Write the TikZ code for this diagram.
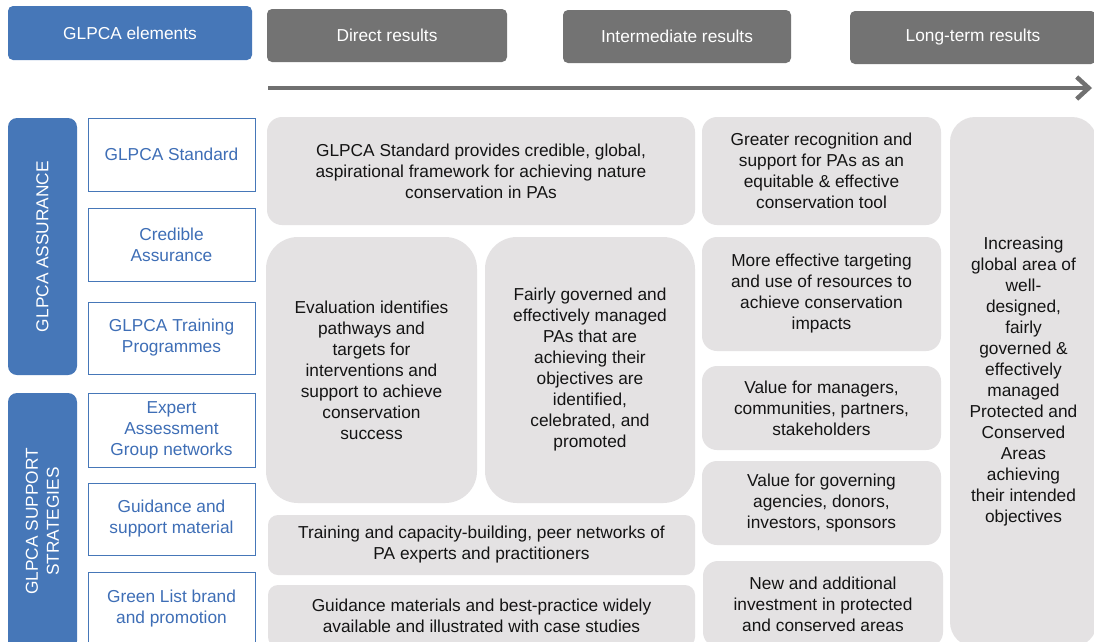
\documentclass[tikz,border=0pt]{standalone}
\usepackage{fontspec}
\setmainfont{Liberation Sans}
\usetikzlibrary{arrows.meta}
\definecolor{glblue}{RGB}{70,119,184}
\definecolor{hdrgray}{RGB}{115,115,115}
\definecolor{arrowgray}{RGB}{112,112,112}
\definecolor{boxgray}{RGB}{228,226,227}
\definecolor{bluetext}{RGB}{62,110,182}
\definecolor{darktext}{RGB}{20,20,20}
\begin{document}
\begin{tikzpicture}[x=1pt,y=-1pt,
  base/.style={rectangle, inner sep=0pt, outer sep=0pt, align=center,
    font=\fontsize{17.3}{21}\selectfont},
  hdr/.style={base, fill=hdrgray, text=white, rounded corners=5pt},
  bluehdr/.style={base, fill=glblue, text=white, rounded corners=5pt},
  bar/.style={base, fill=glblue, text=white, rounded corners=9pt, rotate=90},
  elem/.style={base, draw=glblue, line width=1pt, fill=white, text=bluetext},
  res/.style={base, fill=boxgray, text=darktext},
]
\useasboundingbox (0,0) rectangle (1094,641);
\clip (0,0) rectangle (1094,641);
\fill[white] (0,0) rectangle (1094,641);

% column headers
\node[bluehdr, minimum width=244pt, minimum height=54pt] (elements) at (130,33) {GLPCA elements};
\node[hdr, minimum width=240pt, minimum height=53pt] (direct) at (387,35.5) {Direct results};
\node[hdr, minimum width=228pt, minimum height=53pt] (intermediate) at (677,36.5) {Intermediate results};
\node[hdr, minimum width=246pt, minimum height=53pt] (longterm) at (973,37.5) {Long-term results};

% time arrow
\coordinate (arrowstart) at (268,88);
\coordinate (arrowend) at (1092,88);
\draw[line width=4.5pt, arrowgray, -{Straight Barb[length=12pt,width=22pt]}] (arrowstart) -- (arrowend);

% GLPCA element groups
\node[bar, minimum width=257pt, minimum height=69pt] (assurance) at (42.5,246.5) {GLPCA ASSURANCE};
\node[bar, minimum width=257pt, minimum height=69pt] (support) at (42.5,521.5) {GLPCA SUPPORT\\STRATEGIES};

% GLPCA elements
\node[elem, minimum width=167pt, minimum height=73pt] (standard) at (171.5,154.5) {GLPCA Standard};
\node[elem, minimum width=167pt, minimum height=73pt] (credible) at (171.5,244.5) {Credible\\Assurance};
\node[elem, minimum width=167pt, minimum height=72pt] (training) at (171.5,338) {GLPCA Training\\Programmes};
\node[elem, minimum width=167pt, minimum height=74pt] (expert) at (171.5,430) {Expert\\Assessment\\Group networks};
\node[elem, minimum width=167pt, minimum height=72pt] (guidance) at (171.5,519) {Guidance and\\support material};
\node[elem, minimum width=167pt, minimum height=73pt] (greenlist) at (171.5,608.5) {Green List brand\\and promotion};

% direct results
\node[res, rounded corners=15pt, minimum width=428pt, minimum height=108pt] (framework) at (481,171)
  {GLPCA Standard provides credible, global,\\aspirational framework for achieving nature\\conservation in PAs};
\node[res, rounded corners=32pt, minimum width=211pt, minimum height=266pt] (evaluation) at (371.5,370)
  {Evaluation identifies\\pathways and\\targets for\\interventions and\\support to achieve\\conservation\\success};
\node[res, rounded corners=32pt, minimum width=210pt, minimum height=266pt] (fairly) at (590,370)
  {Fairly governed and\\effectively managed\\PAs that are\\achieving their\\objectives are\\identified,\\celebrated, and\\promoted};
\node[res, rounded corners=10pt, minimum width=427pt, minimum height=60pt] (capacity) at (481.5,545)
  {Training and capacity-building, peer networks of\\PA experts and practitioners};
\node[res, rounded corners=10pt, minimum width=427pt, minimum height=62pt] (materials) at (481.5,616)
  {Guidance materials and best-practice widely\\available and illustrated with case studies};

% intermediate results
\node[res, rounded corners=15pt, minimum width=239pt, minimum height=108pt] (recognition) at (821.5,171)
  {Greater recognition and\\support for PAs as an\\equitable \& effective\\conservation tool};
\node[res, rounded corners=15pt, minimum width=239pt, minimum height=114pt] (targeting) at (821.5,294)
  {More effective targeting\\and use of resources to\\achieve conservation\\impacts};
\node[res, rounded corners=15pt, minimum width=239pt, minimum height=84pt] (managers) at (821.5,408)
  {Value for managers,\\communities, partners,\\stakeholders};
\node[res, rounded corners=15pt, minimum width=239pt, minimum height=84pt] (agencies) at (821.5,503)
  {Value for governing\\agencies, donors,\\investors, sponsors};
\node[res, rounded corners=15pt, minimum width=240pt, minimum height=86pt] (investment) at (823,604)
  {New and additional\\investment in protected\\and conserved areas};

% long-term result
\node[res, rounded corners=25pt, minimum width=147pt, minimum height=530pt] (increasing) at (1023.5,382)
  {Increasing\\global area of\\well-\\designed,\\fairly\\governed \&\\effectively\\managed\\Protected and\\Conserved\\Areas\\achieving\\their intended\\objectives};
\end{tikzpicture}
\end{document}
